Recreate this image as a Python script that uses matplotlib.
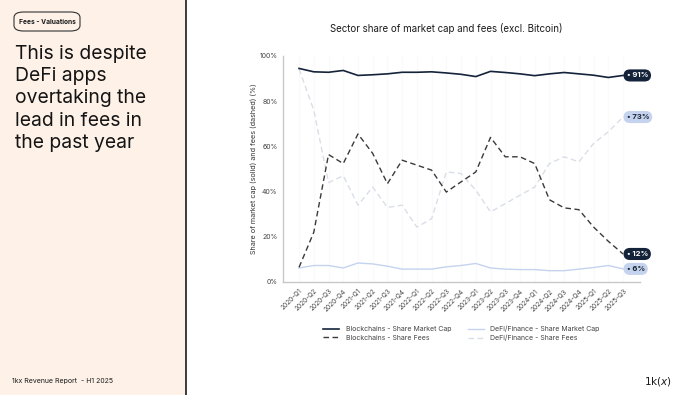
import matplotlib
matplotlib.use("Agg")
import matplotlib.pyplot as plt
from matplotlib.patches import FancyBboxPatch, Rectangle
from matplotlib.lines import Line2D

quarters = ["2020-Q1", "2020-Q2", "2020-Q3", "2020-Q4", "2021-Q1", "2021-Q2", "2021-Q3",
            "2021-Q4", "2022-Q1", "2022-Q2", "2022-Q3", "2022-Q4", "2023-Q1", "2023-Q2",
            "2023-Q3", "2023-Q4", "2024-Q1", "2024-Q2", "2024-Q3", "2024-Q4", "2025-Q1",
            "2025-Q2", "2025-Q3"]
chain_mcap = [94.5, 93.0, 92.8, 93.6, 91.4, 91.7, 92.1, 92.8, 92.8, 93.0, 92.5, 91.9,
              90.9, 93.2, 92.7, 92.1, 91.3, 92.1, 92.7, 92.1, 91.5, 90.5, 91.4]
chain_fees = [6.5, 22.0, 56.4, 52.4, 65.5, 56.9, 43.5, 53.9, 51.7, 49.5, 39.8, 44.3,
              48.7, 64.0, 55.4, 55.4, 52.4, 36.4, 32.8, 32.0, 24.3, 18.0, 12.4]
defi_mcap = [6.2, 7.3, 7.3, 6.2, 8.4, 8.0, 7.0, 5.7, 5.7, 5.7, 6.7, 7.3,
             8.2, 6.2, 5.7, 5.5, 5.5, 5.0, 5.0, 5.7, 6.4, 7.3, 5.8]
defi_fees = [94.3, 76.0, 44.0, 47.0, 34.0, 42.0, 33.0, 34.0, 24.3, 28.0, 48.7, 48.0,
             40.6, 31.0, 34.7, 38.4, 42.0, 52.4, 55.4, 53.2, 61.3, 66.5, 73.0]

BEIGE = "#fdf1e8"
INK = "#1b1b1b"
NAVY = "#14233a"
LIGHTBLUE = "#c5d3ee"
PALE = "#d9dee8"
GRAYLINE = "#c8c8c8"
FONT = "Inter"

fig = plt.figure(figsize=(6.8, 3.95), dpi=100)
fig.patch.set_facecolor("white")

# left panel
fig.patches.append(Rectangle((0, 0), 186 / 680, 1, transform=fig.transFigure,
                             facecolor=BEIGE, edgecolor="none", zorder=0))
fig.add_artist(Line2D([186 / 680, 186 / 680], [0, 1], color=INK, lw=1.2))
fig.patches.append(FancyBboxPatch((14 / 680, 1 - 31 / 395), 66 / 680, 19 / 395,
                                  boxstyle="round,pad=0,rounding_size=0.014",
                                  transform=fig.transFigure, facecolor="none",
                                  edgecolor="#333333", lw=0.8))
fig.text(47 / 680, 1 - 21.5 / 395, "Fees - Valuations", ha="center", va="center",
         fontsize=4.8, fontweight="bold", color=INK, family=FONT)
fig.text(15 / 680, 1 - 45 / 395,
         "This is despite\nDeFi apps\novertaking the\nlead in fees in\nthe past year",
         ha="left", va="top", fontsize=13.9, color="#141414", family=FONT,
         linespacing=1.3)
fig.text(12 / 680, 1 - 381 / 395, "1kx Revenue Report  - H1 2025", ha="left",
         va="center", fontsize=5, color=INK, family=FONT)
fig.text(672 / 680, 1 - 381 / 395, "1k($x$)", ha="right", va="center",
         fontsize=7.5, color=INK, family="DejaVu Sans")

fig.text(446 / 680, 1 - 29 / 395, "Sector share of market cap and fees (excl. Bitcoin)",
         ha="center", va="center", fontsize=7.0, color=INK, family=FONT)

# chart
ax = fig.add_axes([283 / 680, 1 - 282 / 395, 357 / 680, 226 / 395])
x = list(range(len(quarters)))
ax.plot(x, chain_mcap, color=NAVY, lw=1.2, label="Blockchains - Share Market Cap", zorder=4)
ax.plot(x, chain_fees, color="#3a3a3a", lw=1.0, ls=(0, (4, 2.5)),
        label="Blockchains - Share Fees", zorder=3)
ax.plot(x, defi_mcap, color=LIGHTBLUE, lw=1.0, label="DeFi/Finance - Share Market Cap", zorder=2)
ax.plot(x, defi_fees, color=PALE, lw=1.0, ls=(0, (4, 2.5)),
        label="DeFi/Finance - Share Fees", zorder=2)

ax.set_xlim(-1.09, 23.15)
ax.set_ylim(0, 100)
ax.set_xticks(x)
ax.set_xticklabels(quarters, rotation=45, ha="right", rotation_mode="anchor",
                   fontsize=4.7, color="#444444", family=FONT)
ax.set_yticks([0, 20, 40, 60, 80, 100])
ax.set_yticklabels(["{}%".format(v) for v in [0, 20, 40, 60, 80, 100]],
                   fontsize=5.0, color="#444444", family=FONT)
ax.tick_params(length=0, pad=4)
ax.grid(axis="x", color="#fafafa", lw=0.8)
ax.set_axisbelow(True)
for side in ["top", "right"]:
    ax.spines[side].set_visible(False)
for side in ["left", "bottom"]:
    ax.spines[side].set_color(GRAYLINE)
    ax.spines[side].set_linewidth(1.0)
ax.set_ylabel("Share of market cap (solid) and fees (dashed) (%)", fontsize=5.2,
              color="#333333", family=FONT, labelpad=2)

# end-of-line badges
badges = [(chain_mcap, NAVY, "white"), (defi_fees, LIGHTBLUE, "#1b2533"),
          (chain_fees, NAVY, "white"), (defi_mcap, LIGHTBLUE, "#1b2533")]
for series, bg, fg in badges:
    v = series[-1]
    ax.annotate("\u2022 {:.0f}%".format(v), xy=(x[-1], v), xytext=(2.5, 0),
                textcoords="offset points", ha="left", va="center",
                fontsize=5.5, fontweight="bold", color=fg, family=FONT,
                bbox=dict(boxstyle="round,pad=0.4,rounding_size=0.85",
                          fc=bg, ec="none"), zorder=6, annotation_clip=False)

leg = ax.legend(loc="upper center", bbox_to_anchor=(0.5, -0.165), ncol=2, frameon=False,
                prop={"family": FONT, "size": 5.0}, handlelength=2.3, columnspacing=2.3,
                labelspacing=0.4, handletextpad=1.0)
for t in leg.get_texts():
    t.set_color("#444444")

fig.savefig("out.png", dpi=100, facecolor="white")
